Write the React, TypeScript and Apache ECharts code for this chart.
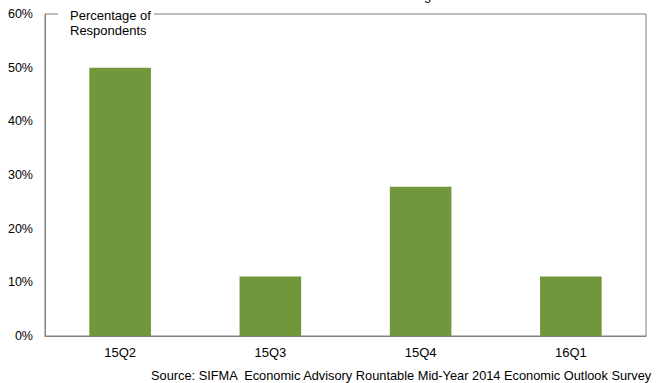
import React, { useEffect, useRef } from "react";
import * as echarts from "echarts";

// Survey response shares per expected quarter (n = 18)
const quarters = ["15Q2", "15Q3", "15Q4", "16Q1"];
const shares = [50.0, 11.1, 27.8, 11.1];
const yTicks = [0, 10, 20, 30, 40, 50, 60];
const unitLabel = "Percentage of\nRespondents";
const sourceNote = "Source: SIFMA  Economic Advisory Rountable Mid-Year 2014 Economic Outlook Survey";

const FONT = "'Liberation Sans', Arial, Helvetica, sans-serif";
const GRAY = "#808080";

export default function App() {
  const ref = useRef<HTMLDivElement>(null);

  useEffect(() => {
    if (!ref.current) return;
    const chart = echarts.init(ref.current, null, { renderer: "svg" });
    chart.setOption({
      animation: false,
      backgroundColor: "#ffffff",
      grid: {
        left: 45,
        right: 11,
        top: 14,
        bottom: 47,
        show: true,
        borderColor: GRAY,
        borderWidth: 1,
        backgroundColor: "transparent",
      },
      xAxis: {
        type: "category",
        data: quarters,
        axisLine: { show: true, lineStyle: { color: GRAY, width: 1 } },
        axisTick: { show: false },
        axisLabel: { color: "#000", fontFamily: FONT, fontSize: 13, margin: 10 },
      },
      yAxis: {
        type: "value",
        min: yTicks[0],
        max: yTicks[yTicks.length - 1],
        interval: 10,
        splitLine: { show: false },
        axisLine: { show: true, lineStyle: { color: GRAY, width: 1 } },
        axisTick: { show: false },
        axisLabel: {
          color: "#000",
          fontFamily: FONT,
          fontSize: 12.5,
          margin: 12,
          formatter: (v: number) => `${v}%`,
        },
      },
      series: [
        {
          type: "bar",
          data: shares,
          barWidth: "41%",
          itemStyle: { color: "#71963c" },
        },
      ],
      graphic: [
        {
          type: "rect",
          shape: { x: 58, y: 8, width: 96, height: 14 },
          style: { fill: "#ffffff" },
          z: 100,
        },
        {
          type: "text",
          x: 70,
          y: 8,
          z: 101,
          style: {
            text: unitLabel,
            fill: "#000",
            font: `13px ${FONT}`,
            lineHeight: 15,
            verticalAlign: "top",
          },
        },
        {
          type: "text",
          x: 424,
          y: 2,
          z: 101,
          style: {
            text: "g",
            fill: "#000",
            font: `13px ${FONT}`,
            verticalAlign: "bottom",
          },
        },
        {
          type: "text",
          x: 151,
          y: 369,
          z: 101,
          style: {
            text: sourceNote,
            fill: "#000",
            font: `12.8px ${FONT}`,
          },
        },
      ],
    });
    return () => chart.dispose();
  }, []);

  return <div ref={ref} style={{ width: 657, height: 383, position: "absolute", left: 0, top: 0 }} />;
}
